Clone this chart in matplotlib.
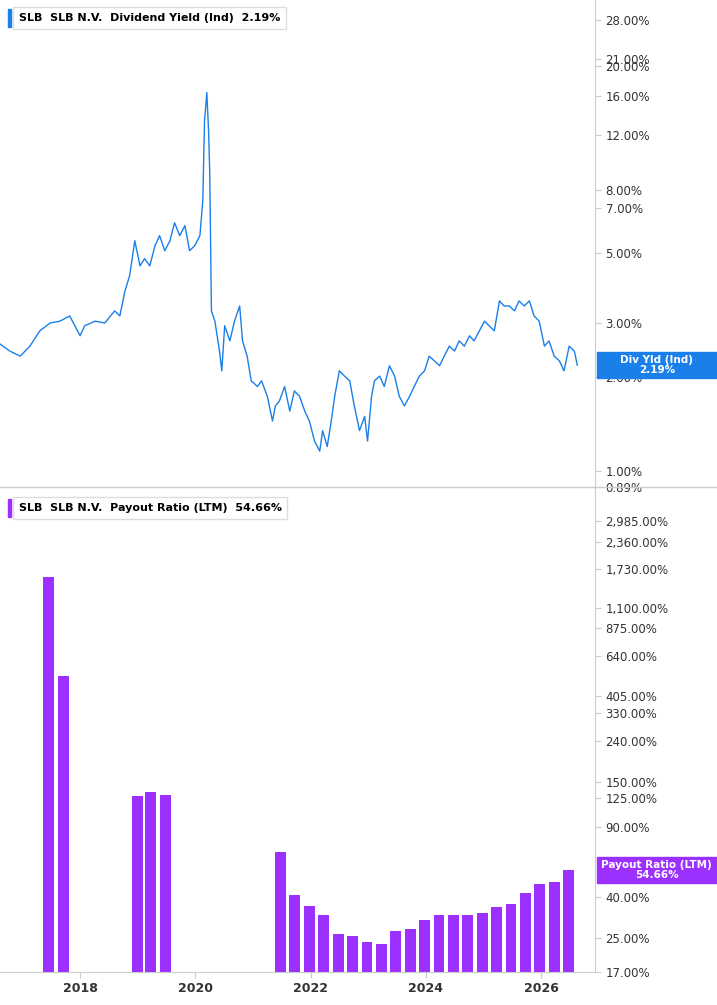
import matplotlib
matplotlib.use("Agg")
import matplotlib.pyplot as plt
from matplotlib.ticker import FixedLocator, FuncFormatter, NullLocator

yld_year = [2016.61,2016.78,2016.96,2017.13,2017.30,2017.48,2017.65,2017.82,2018.00,2018.08,2018.26,2018.43,2018.60,2018.69,2018.78,2018.86,2018.95,2019.04,2019.12,2019.21,2019.30,2019.38,2019.47,2019.56,2019.64,2019.73,2019.82,2019.90,2019.99,2020.08,2020.13,2020.16,2020.20,2020.23,2020.25,2020.28,2020.34,2020.42,2020.46,2020.51,2020.60,2020.68,2020.77,2020.82,2020.90,2020.97,2021.08,2021.15,2021.25,2021.34,2021.39,2021.46,2021.55,2021.64,2021.72,2021.81,2021.90,2021.98,2022.07,2022.16,2022.21,2022.29,2022.36,2022.42,2022.50,2022.59,2022.68,2022.76,2022.85,2022.94,2022.99,2023.06,2023.11,2023.20,2023.28,2023.37,2023.46,2023.54,2023.63,2023.72,2023.80,2023.89,2023.98,2024.06,2024.15,2024.24,2024.32,2024.41,2024.50,2024.58,2024.67,2024.76,2024.84,2024.93,2025.02,2025.10,2025.19,2025.28,2025.36,2025.45,2025.54,2025.62,2025.71,2025.80,2025.88,2025.97,2026.06,2026.14,2026.23,2026.32,2026.40,2026.49,2026.58,2026.63]
yld_val = [2.56,2.43,2.34,2.52,2.82,2.99,3.03,3.15,2.72,2.93,3.03,2.99,3.27,3.15,3.79,4.24,5.49,4.56,4.81,4.56,5.29,5.70,5.10,5.49,6.27,5.70,6.14,5.10,5.29,5.70,7.38,13.3,16.4,12.4,9.22,3.27,3.03,2.43,2.10,2.93,2.62,3.03,3.39,2.62,2.34,1.95,1.87,1.95,1.74,1.45,1.62,1.68,1.87,1.56,1.81,1.74,1.56,1.45,1.25,1.16,1.35,1.20,1.45,1.74,2.10,2.02,1.95,1.62,1.35,1.50,1.25,1.74,1.95,2.02,1.87,2.18,2.02,1.74,1.62,1.74,1.87,2.02,2.10,2.34,2.26,2.18,2.34,2.52,2.43,2.62,2.52,2.72,2.62,2.82,3.03,2.93,2.82,3.52,3.39,3.39,3.27,3.52,3.39,3.52,3.15,3.03,2.52,2.62,2.34,2.26,2.10,2.52,2.43,2.19]

pr_year = [2017.46,2017.72,2019.00,2019.22,2019.48] + [2021.48 + 0.25*i for i in range(21)]
pr_val = [1580,507,128,134,130,67.4,41.1,36.3,32.7,26.3,25.6,24.0,23.4,27.2,27.9,30.9,32.6,32.8,32.8,33.5,35.8,37.1,42.1,46.6,48.0,54.66]

top_ticks = [0.89,1,2,3,5,7,8,12,16,20,21,28]
bot_ticks = [17,25,40,90,125,150,240,330,405,640,875,1100,1730,2360,2985]
x_ticks = [2018,2020,2022,2024,2026]

BLUE = "#1a7fe8"
PURP = "#9b30ff"
plt.rcParams['font.family'] = ['DejaVu Sans']
fig = plt.figure(figsize=(7.17,10.05), dpi=100)
ax1 = fig.add_axes([0,0.5154,0.83,0.4846])
ax2 = fig.add_axes([0,0.0328,0.83,0.4826])

def fmt(v,p):
    return f"{v:,.2f}%"

for ax in (ax1,ax2):
    ax.set_xlim(2016.61,2026.94)
    ax.yaxis.tick_right()
    for s in ['top','left']:
        ax.spines[s].set_visible(False)
    ax.spines['right'].set_color('#cccccc')
    ax.spines['bottom'].set_color('#cccccc')
    ax.tick_params(axis='y', labelsize=8.5, colors='#333333', length=4, color='#cccccc')
    ax.tick_params(axis='x', labelsize=9, colors='#333333', length=4, color='#cccccc')
    ax.set_yscale('log')

ax1.plot(yld_year, yld_val, color=BLUE, lw=1)
ax1.set_ylim(0.89,32.5)
ax1.yaxis.set_major_locator(FixedLocator(top_ticks))
ax1.yaxis.set_minor_locator(NullLocator())
ax1.yaxis.set_major_formatter(FuncFormatter(fmt))
ax1.set_xticks([])

ax2.bar(pr_year, pr_val, width=0.19, color=PURP, bottom=0)
ax2.set_ylim(17,4425)
ax2.yaxis.set_major_locator(FixedLocator(bot_ticks))
ax2.yaxis.set_minor_locator(NullLocator())
ax2.yaxis.set_major_formatter(FuncFormatter(fmt))
ax2.set_xticks(x_ticks)
ax2.set_xticklabels([str(x) for x in x_ticks], fontweight='bold')

def legend(y, text, col):
    fig.text(0.026, y, text, fontsize=8, fontweight='bold', va='center', ha='left',
             bbox=dict(boxstyle='square,pad=0.5', fc='white', ec='#dddddd'))
    fig.patches.append(plt.Rectangle((0.011, y-0.009), 0.005, 0.018, transform=fig.transFigure, color=col))
legend(1-18/1005, "SLB  SLB N.V.  Dividend Yield (Ind)  2.19%", BLUE)
legend(1-508/1005, "SLB  SLB N.V.  Payout Ratio (LTM)  54.66%", PURP)

def tag(ax, v, txt, col):
    # place a box spanning the right label strip at the data value
    yfig = fig.transFigure.inverted().transform(ax.transData.transform((2020, v)))[1]
    h = 26/1005
    fig.patches.append(plt.Rectangle((0.833, yfig-h/2), 0.167, h, transform=fig.transFigure, color=col))
    fig.text(0.916, yfig, txt, ha='center', va='center', fontsize=7.5, fontweight='bold',
             color='white', linespacing=1.05)
tag(ax1, 2.19, "Div Yld (Ind)\n2.19%", BLUE)
tag(ax2, 54.66, "Payout Ratio (LTM)\n54.66%", PURP)

fig.add_artist(plt.Line2D([0,1],[0.5154,0.5154], transform=fig.transFigure, color='#cccccc', lw=1))
fig.savefig("out.png", dpi=100)
